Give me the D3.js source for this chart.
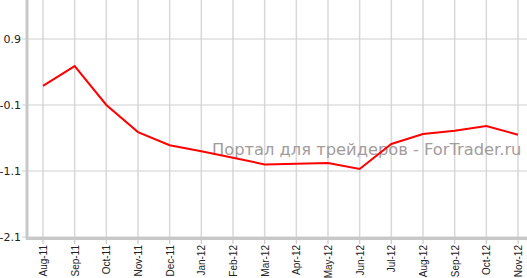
<!DOCTYPE html>
<meta charset="utf-8">
<title>Line chart</title>
<body style="margin:0;background:#fff">
<svg width=527 height=278></svg>
<script src="https://d3js.org/d3.v7.min.js"></script>
<script>
    const months = ["Aug-11","Sep-11","Oct-11","Nov-11","Dec-11","Jan-12","Feb-12","Mar-12",
        "Apr-12","May-12","Jun-12","Jul-12","Aug-12","Sep-12","Oct-12","Nov-12"];
    const values = [0.19, 0.49, -0.1, -0.51, -0.71, -0.8, -0.9, -1.0,
        -0.99, -0.98, -1.07, -0.69, -0.54, -0.49, -0.42, -0.55];
    const yTicks = [0.9, -0.1, -1.1, -2.1];

    const svg = d3.select('svg');
    const x = d3.scalePoint().domain(months).range([43, 518]);
    const y = d3.scaleLinear().domain([-2.1, 0.9]).range([237, 39]);

    // grid
    svg.append('g').selectAll('line').data(months).enter().append('line')
        .attr('x1', d=>x(d)).attr('x2', d=>x(d)).attr('y1', 0).attr('y2', 237)
        .attr('stroke', '#d8d8d8').attr('stroke-width', 1.5);
    svg.append('g').selectAll('line').data(yTicks).enter().append('line')
        .attr('x1', 22).attr('x2', 527).attr('y1', d=>y(d)).attr('y2', d=>y(d))
        .attr('stroke', '#d0d0d0').attr('stroke-width', 1.2);

    // axis lines
    svg.append('line').attr('x1', 27).attr('x2', 27).attr('y1', 0).attr('y2', 239)
        .attr('stroke', '#c8c8c8').attr('stroke-width', 3);
    svg.append('line').attr('x1', 26).attr('x2', 527).attr('y1', 238.5).attr('y2', 238.5)
        .attr('stroke', '#c8c8c8').attr('stroke-width', 3);

    // x tick marks
    svg.append('g').selectAll('line').data(months).enter().append('line')
        .attr('x1', d=>x(d)).attr('x2', d=>x(d)).attr('y1', 240).attr('y2', 244)
        .attr('stroke', '#c8c8c8').attr('stroke-width', 1.2);

    // labels
    svg.append('g').selectAll('text').data(yTicks).enter().append('text')
        .attr('x', 21).attr('y', d=>y(d) + 4)
        .attr('text-anchor', 'end')
        .style('font', '11px "DejaVu Sans", sans-serif').attr('fill', '#222')
        .text(d=>d);
    svg.append('g').selectAll('text').data(months).enter().append('text')
        .attr('transform', d=>`translate(${x(d)+4},245) rotate(-90)`)
        .attr('text-anchor', 'end')
        .style('font', '10px "Liberation Sans", Arial, sans-serif').attr('fill', '#222')
        .text(d=>d);

    // watermark
    svg.append('text').attr('x', 212).attr('y', 155)
        .style('font', '16.3px "DejaVu Sans", sans-serif').attr('fill', '#a39c9c')
        .text('Портал для трейдеров - ForTrader.ru');

    // line
    const line = d3.line().x((d,i)=>x(months[i])).y(d=>y(d));
    svg.append('path').datum(values).attr('d', line)
        .attr('fill', 'none').attr('stroke', '#ff0000').attr('stroke-width', 2);
</script>
